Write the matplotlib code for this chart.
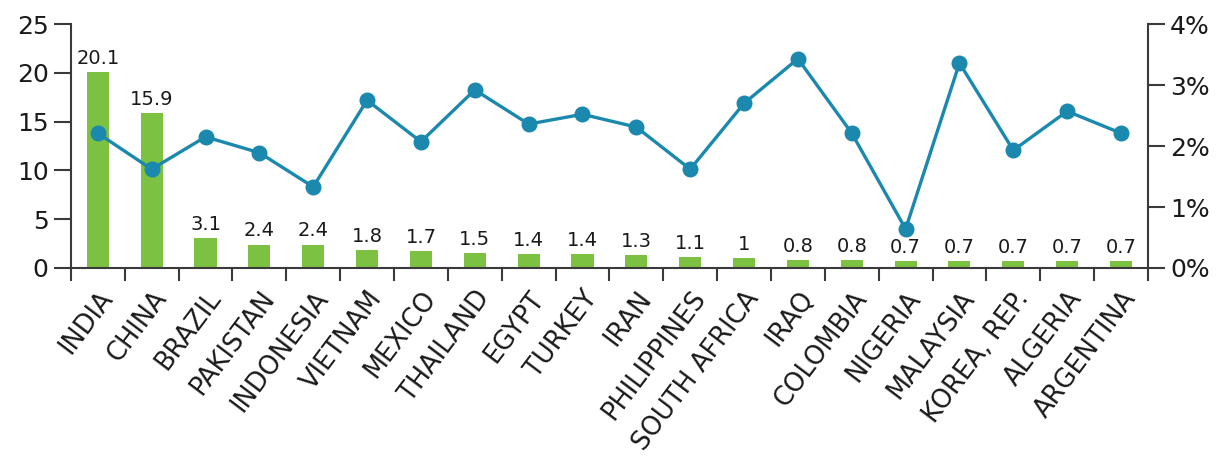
import matplotlib
matplotlib.use("Agg")
import matplotlib.pyplot as plt
from matplotlib.ticker import FuncFormatter, FixedLocator
from matplotlib.transforms import ScaledTranslation

plt.rcParams['font.family'] = ['DejaVu Sans']

# --- data ---
countries = ["INDIA", "CHINA", "BRAZIL", "PAKISTAN", "INDONESIA", "VIETNAM",
             "MEXICO", "THAILAND", "EGYPT", "TURKEY", "IRAN", "PHILIPPINES",
             "SOUTH AFRICA", "IRAQ", "COLOMBIA", "NIGERIA", "MALAYSIA",
             "KOREA, REP.", "ALGERIA", "ARGENTINA"]
bar_values = [20.1, 15.9, 3.1, 2.4, 2.4, 1.8, 1.7, 1.5, 1.4, 1.4, 1.3, 1.1,
              1, 0.8, 0.8, 0.7, 0.7, 0.7, 0.7, 0.7]
bar_labels = ["20.1", "15.9", "3.1", "2.4", "2.4", "1.8", "1.7", "1.5", "1.4",
              "1.4", "1.3", "1.1", "1", "0.8", "0.8", "0.7", "0.7", "0.7",
              "0.7", "0.7"]
line_pct = [2.21, 1.62, 2.15, 1.89, 1.33, 2.75, 2.07, 2.92, 2.36, 2.52, 2.31,
            1.62, 2.70, 3.43, 2.21, 0.64, 3.36, 1.93, 2.57, 2.21]

GREEN = "#7cc142"
BLUE = "#1b88ae"
AXIS = "#3a3a3a"
TEXT = "#1a1a1a"

fig = plt.figure(figsize=(12.22, 4.71), dpi=100)
ax = fig.add_axes([0.058, 0.431, 0.8814, 0.518])
x = list(range(len(countries)))

ax.bar(x, bar_values, width=0.41, color=GREEN, zorder=2)
for xi, v, lab in zip(x, bar_values, bar_labels):
    ax.annotate(lab, (xi, v), xytext=(0, 3), textcoords="offset points",
                ha="center", va="bottom", fontsize=14, color=TEXT)

ax.set_xlim(-0.5, len(countries) - 0.5)
ax.set_ylim(0, 25)
ax.set_yticks([0, 5, 10, 15, 20, 25])

# country names sit at the bar centres, the tick marks at the category edges
ax.xaxis.set_major_locator(FixedLocator(x))
ax.set_xticklabels(countries, rotation=53, ha="right", va="top",
                   rotation_mode="anchor", fontsize=18.5, color=TEXT)
shift = ScaledTranslation(7 / 100, 0, fig.dpi_scale_trans)
for lbl in ax.get_xticklabels():
    lbl.set_transform(lbl.get_transform() + shift)
ax.xaxis.set_minor_locator(FixedLocator([i - 0.5 for i in range(len(countries) + 1)]))
ax.tick_params(axis="x", which="major", length=0, pad=13)
ax.tick_params(axis="x", which="minor", length=9.5, width=1.5, color=AXIS)
ax.tick_params(axis="y", length=12, width=1.5, color=AXIS, labelsize=18,
               labelcolor=TEXT, pad=4)

for s in ["top", "right"]:
    ax.spines[s].set_visible(False)
for s in ["left", "bottom"]:
    ax.spines[s].set_color(AXIS)
    ax.spines[s].set_linewidth(1.5)

ax2 = ax.twinx()
ax2.plot(x, line_pct, color=BLUE, linewidth=2.4, marker="o", markersize=10.5,
         zorder=3)
ax2.set_ylim(0, 4)
ax2.set_yticks([0, 1, 2, 3, 4])
ax2.yaxis.set_major_formatter(FuncFormatter(lambda v, p: f"{v:.0f}%"))
ax2.tick_params(axis="y", length=12, width=1.5, color=AXIS, labelsize=18,
                labelcolor=TEXT, pad=4)
for s in ["top", "left", "bottom"]:
    ax2.spines[s].set_visible(False)
ax2.spines["right"].set_color(AXIS)
ax2.spines["right"].set_linewidth(1.5)

fig.savefig("out.png", dpi=100)
